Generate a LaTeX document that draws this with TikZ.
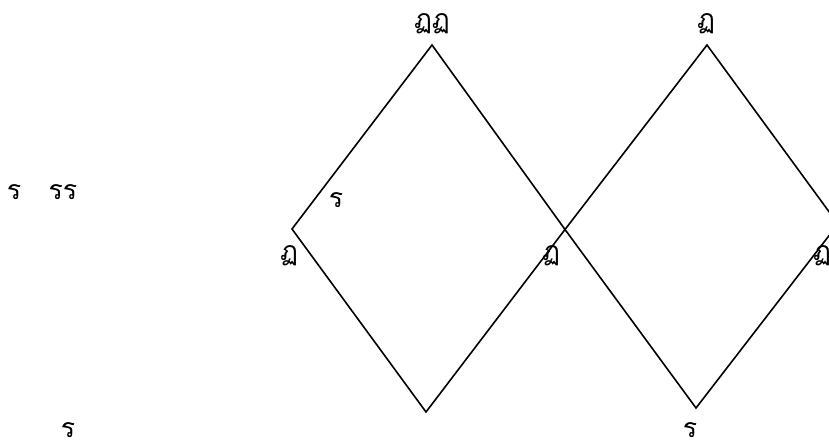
\documentclass[tikz,border=0pt]{standalone}
\usepackage{fontspec}
\newfontfamily\thaifont[Script=Thai]{Loma}
\begin{document}
\begin{tikzpicture}[x=0.75pt,y=-0.75pt,
  lbl/.style={font=\thaifont\fontsize{20}{22}\selectfont, inner sep=0pt},
  edge/.style={line width=1.2pt, line join=miter}]
\useasboundingbox (0,0) rectangle (829,448);
\coordinate (t1) at (432,45);
\coordinate (l1) at (292,229);
\coordinate (b1) at (426,412);
\coordinate (x) at (565,229.5);
\coordinate (t2) at (707,45);
\coordinate (b2) at (696,408);
\coordinate (r2) at (838,224);
\begin{scope}
\clip (0,0) rectangle (829,448);
\draw[edge] (t1) -- (l1) -- (b1) -- (x) -- (t2) -- (r2) -- (b2) -- (x) -- cycle;
\end{scope}
\node[lbl] (a1) at (14,192) {ร};
\node[lbl] (a2) at (63,192) {รร};
\node[lbl] (a3) at (432,24) {ฏฏ};
\node[lbl] (a4) at (706,24) {ฏ};
\node[lbl] (a5) at (336,200) {ร};
\node[lbl] (a6) at (289,256) {ฏ};
\node[lbl] (a7) at (551,256) {ฏ};
\node[lbl] (a8) at (822,256) {ฏ};
\node[lbl] (a9) at (68,430) {ร};
\node[lbl] (a10) at (690,430) {ร};
\end{tikzpicture}
\end{document}
